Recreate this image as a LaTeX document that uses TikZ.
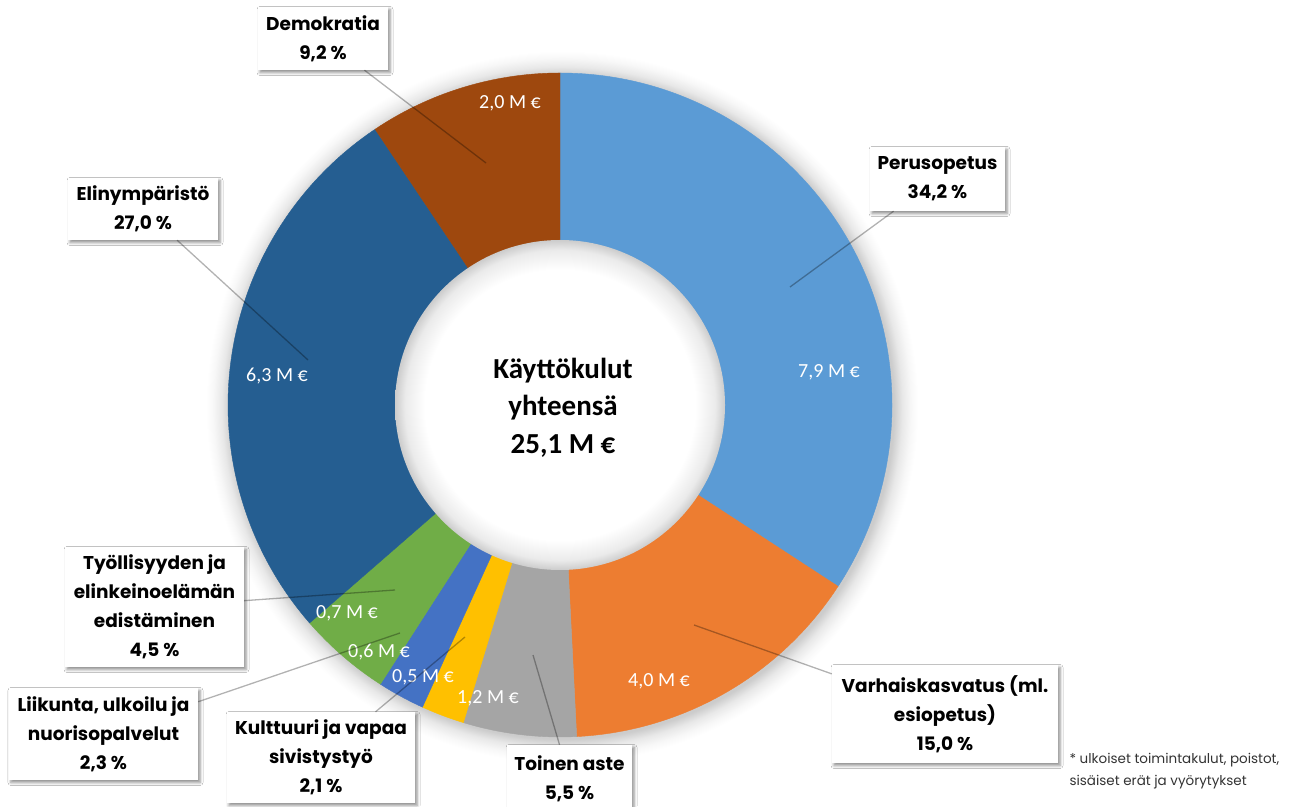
\documentclass[tikz,border=0pt]{standalone}
\usepackage{fontspec}
\setmainfont{Poppins}
\newfontfamily\calibri{Carlito}
\usetikzlibrary{calc,shadows.blur}

\definecolor{perus}{HTML}{5B9BD5}
\definecolor{varhais}{HTML}{ED7D31}
\definecolor{toinen}{HTML}{A5A5A5}
\definecolor{kulttuuri}{HTML}{FFC000}
\definecolor{liikunta}{HTML}{4472C4}
\definecolor{tyollis}{HTML}{70AD47}
\definecolor{elin}{HTML}{255E91}
\definecolor{demo}{HTML}{9E480E}

\pgfdeclareradialshading{holeshade}{\pgfpoint{0bp}{0bp}}{color(0bp)=(white); color(20.5bp)=(white); color(23.5bp)=(black!8); color(25bp)=(black!20); color(50bp)=(black!20)}
\pgfdeclareradialshading{haloshade}{\pgfpoint{0bp}{0bp}}{color(0bp)=(black!20); color(23.3bp)=(black!20); color(23.9bp)=(black!9); color(24.5bp)=(black!3); color(25bp)=(white); color(50bp)=(white)}

\begin{document}
\begin{tikzpicture}[x=1pt, y=1pt,
	callout/.style={rectangle, fill=white, align=center, inner sep=0pt, font=\fontsize{18.5}{29}\selectfont\bfseries, blur shadow={shadow xshift=2pt, shadow yshift=-2.5pt, shadow blur radius=3pt, shadow opacity=45}},
	amount/.style={text=white, font=\calibri\fontsize{20}{24}\selectfont},
	leader/.style={draw=black, line width=1.3pt, draw opacity=0.3}]
		\useasboundingbox (0,0) rectangle (1290,806);
		\fill[white] (0,0) rectangle (1290,806);

		% ring
		\coordinate (mid) at (560,401);
		\shade[shading=haloshade] ($(mid)+(2,-2)$) circle (356);
		\foreach \a/\b/\c in {90/-33.12/perus, -33.12/-87.12/varhais, -87.12/-106.92/toinen, -106.92/-114.48/kulttuuri, -114.48/-122.76/liikunta, -122.76/-138.96/tyollis, -138.96/-236.16/elin, -236.16/-270/demo}
			\filldraw[fill=\c, draw=\c, line width=0.4pt] (mid) -- ++(\a:332) arc[start angle=\a, end angle=\b, radius=332] -- cycle;
		\shade[shading=holeshade] (mid) circle (165);

		\node[font=\calibri\bfseries\fontsize{29}{37.5}\selectfont, align=center] (total) at (563,398.5) {Käyttökulut\\yhteensä\\25,1 M €};

		% amounts
		\node[amount] (demoval) at (510,703) {2,0 M €};
		\node[amount] (perusval) at (829,434) {7,9 M €};
		\node[amount] (varhaisval) at (659,125) {4,0 M €};
		\node[amount] (toinenval) at (488,108) {1,2 M €};
		\node[amount] (liikuntaval) at (423,129) {0,5 M €};
		\node[amount] (tyollisval) at (379,154) {0,6 M €};
		\node[amount] (kulttuurival) at (347,193) {0,7 M €};
		\node[amount] (elinval) at (277,430) {6,3 M €};

		% callouts
		\node[callout, minimum width=130pt, minimum height=63pt] (demobox) at (323,767.5) {Demokratia\\9,2 \%};
		\node[callout, minimum width=150pt, minimum height=62pt] (elinbox) at (143,597) {Elinympäristö\\27,0 \%};
		\node[callout, minimum width=135pt, minimum height=64pt] (perusbox) at (937.5,627) {Perusopetus\\34,2 \%};
		\node[callout, minimum width=226pt, minimum height=98pt] (varhaisbox) at (945,92) {Varhaiskasvatus (ml.\\esiopetus)\\15,0 \%};
		\node[callout, minimum width=125pt, minimum height=67pt] (toinenbox) at (569.5,27.5) {Toinen aste\\5,5 \%};
		\node[callout, minimum width=188pt, minimum height=91pt] (kulttuuribox) at (321,48.5) {Kulttuuri ja vapaa\\sivistystyö\\2,1 \%};
		\node[callout, minimum width=189pt, minimum height=92pt] (liikuntabox) at (103.5,72) {Liikunta, ulkoilu ja\\nuorisopalvelut\\2,3 \%};
		\node[callout, minimum width=179pt, minimum height=120pt] (tyollisbox) at (154.5,199) {Työllisyyden ja\\elinkeinoelämän\\edistäminen\\4,5 \%};

		% leader lines
		\coordinate (demotip) at (486,643);
		\coordinate (elintip) at (308,446);
		\coordinate (perustip) at (790,519);
		\coordinate (varhaistip) at (694,181);
		\coordinate (toinentip) at (533,151);
		\coordinate (kulttuuritip) at (465,169);
		\coordinate (liikuntatip) at (400,173);
		\coordinate (tyollistip) at (395,216);
		\draw[leader] (demobox) -- (demotip);
		\draw[leader] (elinbox) -- (elintip);
		\draw[leader] (perusbox) -- (perustip);
		\draw[leader] (varhaisbox) -- (varhaistip);
		\draw[leader] (toinenbox) -- (toinentip);
		\draw[leader] (kulttuuribox) -- (kulttuuritip);
		\draw[leader] (liikuntabox) -- (liikuntatip);
		\draw[leader] (tyollisbox) -- (tyollistip);

		\node[anchor=west, align=left, text=black!80, font=\fontsize{13.5}{22}\selectfont] (note) at (1066,35) {* ulkoiset toimintakulut, poistot,\\sisäiset erät ja vyörytykset};
	\end{tikzpicture}
\end{document}
